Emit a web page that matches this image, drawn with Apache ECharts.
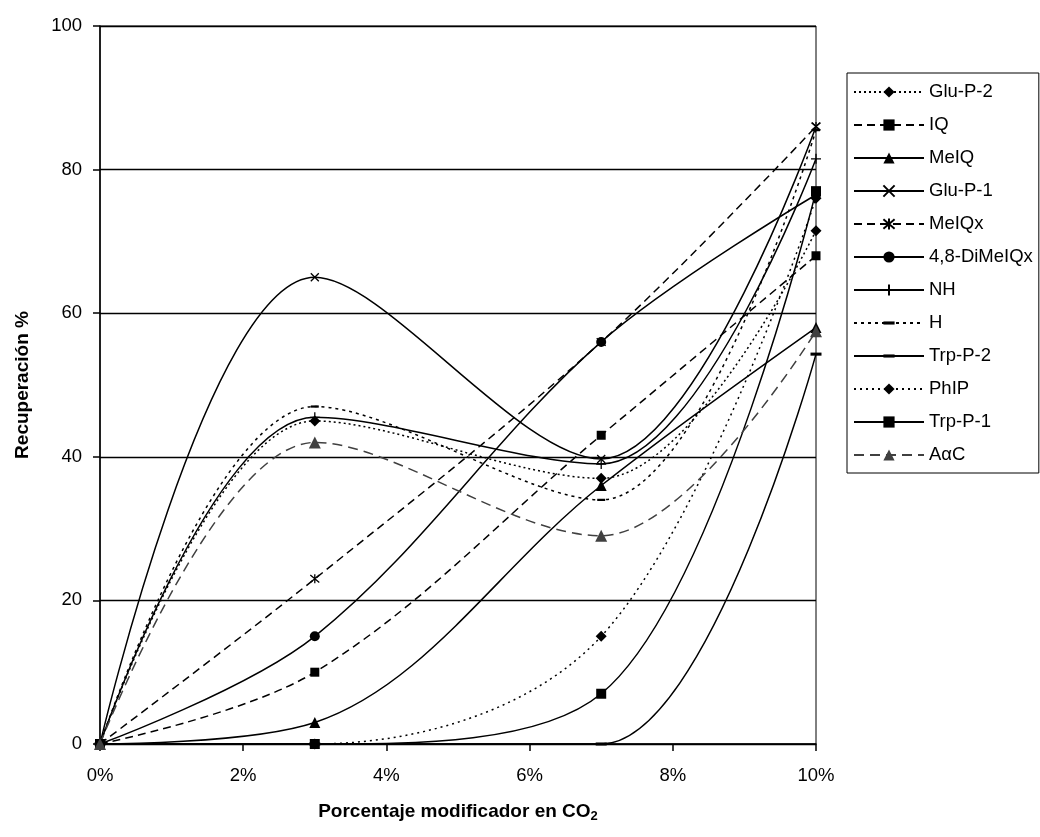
<!DOCTYPE html>
<html>
<head>
<meta charset="utf-8">
<script src="https://cdn.jsdelivr.net/npm/echarts@6/dist/echarts.min.js"></script>
<style>
  html, body { margin: 0; padding: 0; background: #fff; }
  #chart { width: 1040px; height: 837px; }
</style>
</head>
<body>
<div id="chart"></div>
<script>
// porcentaje de modificador (eje x)
const xValues = [0, 3, 7, 10]
const xTicks = [0, 2, 4, 6, 8, 10]
const yTicks = [0, 20, 40, 60, 80, 100]

// recuperación % por compuesto
const gluP2 = [0, 45, 37, 71.5]
const iq = [0, 10, 43, 68]
const meiq = [0, 3, 36, 58]
const gluP1 = [0, 65, 39.7, 86]
const meiqx = [0, 23, 56, 86]
const dimeiqx = [0, 15, 56, 76.5]
const nh = [0, 45.5, 39, 81.5]
const h = [0, 47, 34, 85.5]
const trpP2 = [0, 0, 0, 54.3]
const phip = [0, 0, 15, 76]
const trpP1 = [0, 0, 7, 77]
const aac = [0, 42, 29, 57.5]

const symX = 'path://M0,0L10,10M10,0L0,10'
const symStar = 'path://M0,0L10,10M10,0L0,10M5,-1L5,11'
const symPlus = 'path://M5,0L5,10M0,5L10,5'
// barra horizontal dentro de una caja cuadrada (los puntos degenerados fijan la caja)
const symDash = 'path://M0,0L0,0M10,10L10,10M0,3.6H10V6.4H0Z'

function mk (name, values, opt) {
  const color = opt.color || '#000'
  return {
    name: name,
    type: 'line',
    smooth: 0.35,
    data: xValues.map((x, i) => [x, values[i]]),
    symbol: opt.symbol,
    symbolSize: opt.size,
    showSymbol: true,
    lineStyle: { color: color, width: 1.5, type: opt.dash || 'solid' },
    itemStyle: { color: color, borderColor: color, borderWidth: opt.border || 0 }
  }
}

const series = [
  mk('Glu-P-2', gluP2, { symbol: 'diamond', size: 11, dash: [2, 3] }),
  mk('IQ', iq, { symbol: 'rect', size: 9, dash: [8, 5] }),
  mk('MeIQ', meiq, { symbol: 'triangle', size: 11 }),
  mk('Glu-P-1', gluP1, { symbol: symX, size: 8, border: 1.3 }),
  mk('MeIQx', meiqx, { symbol: symStar, size: 9, dash: [8, 5], border: 1.3 }),
  mk('4,8-DiMeIQx', dimeiqx, { symbol: 'circle', size: 10 }),
  mk('NH', nh, { symbol: symPlus, size: 10, border: 1.3 }),
  mk('H', h, { symbol: symDash, size: 8, dash: [3, 4] }),
  mk('Trp-P-2', trpP2, { symbol: symDash, size: 11 }),
  mk('PhIP', phip, { symbol: 'diamond', size: 11, dash: [2, 4] }),
  mk('Trp-P-1', trpP1, { symbol: 'rect', size: 10 }),
  mk('AαC', aac, { symbol: 'triangle', size: 12, dash: [10, 6], color: '#404040' })
]

const chart = echarts.init(document.getElementById('chart'))
chart.setOption({
  animation: false,
  textStyle: { fontFamily: 'Liberation Sans, Arial, sans-serif', color: '#000' },
  grid: {
    left: 100,
    right: 224,
    top: 26,
    bottom: 93,
    show: true,
    borderColor: '#000',
    borderWidth: 1
  },
  legend: {
    orient: 'vertical',
    left: 847,
    top: 73,
    itemWidth: 70,
    itemHeight: 14,
    itemGap: 13,
    padding: [9, 6, 8, 6],
    borderColor: '#000',
    borderWidth: 1,
    textStyle: { fontSize: 18.5, lineHeight: 20, color: '#000', fontFamily: 'Liberation Sans, Arial, sans-serif' },
    data: series.map(s => s.name)
  },
  xAxis: {
    type: 'value',
    min: xTicks[0],
    max: xTicks[xTicks.length - 1],
    interval: 2,
    name: 'Porcentaje modificador en CO{sub|2}',
    nameLocation: 'middle',
    nameGap: 56,
    nameTextStyle: {
      fontSize: 19,
      fontWeight: 'bold',
      color: '#000',
      rich: {
        sub: { fontSize: 13, fontWeight: 'bold', padding: [10, 0, 0, 0], verticalAlign: 'bottom' }
      }
    },
    axisLine: { lineStyle: { color: '#000', width: 1.5 } },
    axisTick: { show: true, length: 7, lineStyle: { color: '#000', width: 1.5 } },
    axisLabel: { fontSize: 18.5, color: '#000', margin: 22, formatter: '{value}%' },
    splitLine: { show: false }
  },
  yAxis: {
    type: 'value',
    min: yTicks[0],
    max: yTicks[yTicks.length - 1],
    interval: 20,
    name: 'Recuperación %',
    nameLocation: 'middle',
    nameGap: 68,
    nameTextStyle: { fontSize: 19, fontWeight: 'bold', color: '#000' },
    axisLine: { show: true, lineStyle: { color: '#000', width: 1.5 } },
    axisTick: { show: true, length: 7, lineStyle: { color: '#000', width: 1.5 } },
    axisLabel: { fontSize: 18.5, color: '#000', margin: 18 },
    splitLine: { show: true, lineStyle: { color: '#000', width: 1.3 } }
  },
  series: series
})
</script>
</body>
</html>
